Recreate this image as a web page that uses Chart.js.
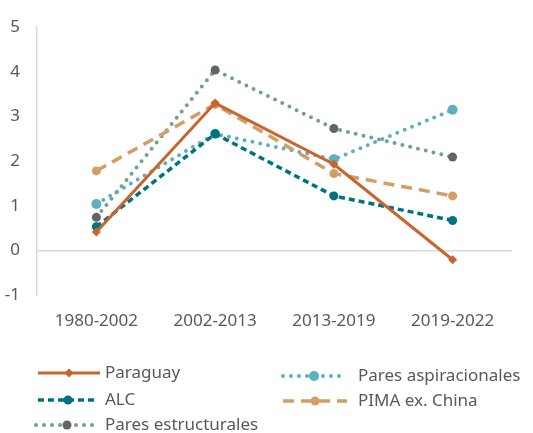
<!DOCTYPE html>
<html>
<head>
<meta charset="utf-8">
<script src="https://cdn.jsdelivr.net/npm/chart.js@4"></script>
<style>
html,body{margin:0;padding:0;background:#fff;}
#wrap{width:533px;height:433px;position:relative;}
</style>
</head>
<body>
<div id="wrap"><canvas id="c" width="533" height="433"></canvas></div>
<script>
const categories = ['1980-2002', '2002-2013', '2013-2019', '2019-2022'];
const paraguay = [0.41, 3.30, 1.93, -0.21];
const aspiracionales = [1.04, 2.61, 2.04, 3.15];
const alc = [0.53, 2.61, 1.22, 0.67];
const pima = [1.78, 3.27, 1.72, 1.22];
const estructurales = [0.74, 4.04, 2.73, 2.09];
const yTicks = [-1, 0, 1, 2, 3, 4, 5];

const FONT = '"Noto Sans", sans-serif';
const TXT = '#595959';

const datasets = [
  {label:'Paraguay', data:paraguay, borderColor:'#C8642C', backgroundColor:'#C8642C',
   borderWidth:3, pointStyle:'rectRot', pointRadius:4.5, pointBorderWidth:0, order:0},
  {label:'Pares aspiracionales', data:aspiracionales, borderColor:'#5DB0BF', backgroundColor:'#5DB0BF',
   borderWidth:4, borderDash:[0,8], borderCapStyle:'round', pointRadius:5, pointBorderWidth:0, order:3},
  {label:'ALC', data:alc, borderColor:'#00737F', backgroundColor:'#00737F',
   borderWidth:3.5, borderDash:[6,4], pointRadius:4.5, pointBorderWidth:0, order:1},
  {label:'PIMA ex. China', data:pima, borderColor:'#D39D66', backgroundColor:'#D39D66',
   borderWidth:3.5, borderDash:[11,7], pointRadius:4.5, pointBorderWidth:0, order:2},
  {label:'Pares estructurales', data:estructurales, borderColor:'#6EA58A', backgroundColor:'#636466',
   borderWidth:4, borderDash:[0,8], borderCapStyle:'round', pointRadius:4.5, pointBorderWidth:0, order:4}
];
datasets.forEach(d => { d.tension = 0; d.fill = false; d.pointHoverRadius = d.pointRadius; });

const legendPos = [
  {x1:38, x2:100, y:373, tx:105},
  {x1:283, x2:345, y:376, tx:358},
  {x1:38, x2:98, y:400, tx:105},
  {x1:283, x2:347, y:401, tx:358},
  {x1:36, x2:98, y:425, tx:105}
];

const customLegend = {
  id:'customLegend',
  afterDraw(chart){
    const ctx = chart.ctx;
    chart.data.datasets.forEach((ds, i) => {
      const p = legendPos[i];
      ctx.save();
      ctx.strokeStyle = ds.borderColor;
      ctx.lineWidth = ds.borderWidth;
      ctx.setLineDash(ds.borderDash || []);
      ctx.lineCap = ds.borderCapStyle || 'butt';
      ctx.beginPath();
      ctx.moveTo(p.x1, p.y);
      ctx.lineTo(p.x2, p.y);
      ctx.stroke();
      ctx.setLineDash([]);
      ctx.fillStyle = ds.backgroundColor;
      const cx = (p.x1 + p.x2) / 2, r = ds.pointRadius;
      ctx.beginPath();
      if (ds.pointStyle === 'rectRot') {
        ctx.moveTo(cx, p.y - r); ctx.lineTo(cx + r, p.y); ctx.lineTo(cx, p.y + r); ctx.lineTo(cx - r, p.y);
        ctx.closePath();
      } else {
        ctx.arc(cx, p.y, r, 0, Math.PI * 2);
      }
      ctx.fill();
      ctx.fillStyle = TXT;
      ctx.font = '17px ' + FONT;
      ctx.textBaseline = 'middle';
      ctx.textAlign = 'left';
      ctx.fillText(ds.label, p.tx, p.y);
      ctx.restore();
    });
  }
};

new Chart(document.getElementById('c'), {
  type:'line',
  data:{labels:categories, datasets:datasets},
  plugins:[customLegend],
  options:{
    responsive:false,
    animation:false,
    layout:{padding:{top:25, right:21, left:0, bottom:0}},
    plugins:{legend:{display:false}, tooltip:{enabled:false}},
    scales:{
      x:{
        offset:true,
        grid:{display:false},
        border:{display:false},
        ticks:{color:TXT, font:{family:FONT, size:17}, padding:8, maxRotation:0},
        afterFit:s => { s.height = 138; }
      },
      y:{
        min:-1, max:5,
        afterBuildTicks:s => { s.ticks = yTicks.map(v => ({value:v})); },
        grid:{drawTicks:false, color:c => c.tick && c.tick.value === 0 ? '#D9D9D9' : 'rgba(0,0,0,0)', lineWidth:1.5},
        border:{display:true, color:'#D9D9D9', width:1.5},
        ticks:{color:TXT, font:{family:FONT, size:17}, padding:17},
        afterFit:s => { s.width = 37; }
      }
    }
  }
});
</script>
</body>
</html>
